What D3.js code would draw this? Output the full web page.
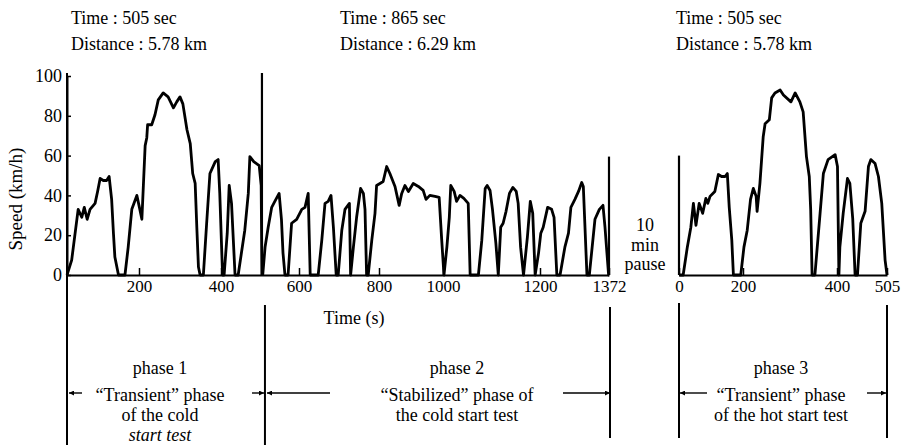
<!DOCTYPE html>
<html><head><meta charset="utf-8">
<script src="https://cdn.jsdelivr.net/npm/d3@7"></script>
<style>
body{margin:0;background:#fff}
svg{display:block}
text{font-family:"Liberation Serif","Times New Roman",serif;fill:#000}
</style>
</head><body>
<svg id="c" width="905" height="445"></svg>
<script>
// ---- data ----
const yTicks = [0, 20, 40, 60, 80, 100];
const coldTicks = [200, 400, 600, 800, 1000, 1200, 1372];
const hotTicks = [0, 200, 400, 505];

// phase 1 : cold transient (s, km/h)
const phase1 = [[0,0],[13,7.5],[31,33],[41,29],[48,34],[56,28],[64,33],[78,36],[85,42],[92,48.5],[101,47.5],[110,47.5],[117,49.5],[124,38],[129,21],[133,9],[143,0],[161,0],[170,14],[180,33],[194,40],[201,34],[207,28],[215,65],[219,69],[221,75.5],[231,75.5],[239,80.5],[247,88],[259,91.5],[271,89.5],[284,84],[292,87],[300,89.5],[307,86],[317,73],[325,66],[331,51],[337,46],[341,24],[345,4],[349,0],[357,0],[365,26],[373,51],[386,57],[393,58],[397,41],[404,0],[408,0],[416,21],[421,45],[427,36],[436,0],[444,0],[461,22.5],[470,41],[474,59.5],[484,57],[498,55],[503,45],[505,0]];
// phase 2 : stabilized
const phase2 = [[507,0],[513,14],[521,24],[530,34],[538,37],[549,41],[555,28],[559,11],[564,0],[572,0],[581,26],[594,28],[607,33],[615,34],[623,41],[628,0],[648,0],[657,17.5],[665,36],[673,37],[680,40],[686,24],[693,0],[698,0],[707,22.5],[715,33],[726,36],[729,0],[736,14],[744,29],[754,43.5],[761,41],[765,33],[769,0],[773,0],[782,17.5],[790,31],[794,45],[803,46],[813,47],[824,54.5],[834,51],[850,44.5],[863,35],[871,41],[881,45],[892,42],[907,46],[923,44.5],[938,42.5],[947,38],[959,40],[975,39.5],[988,39],[996,17.5],[1002,0],[1008,14],[1013,29],[1016,45],[1023,42],[1028,37],[1035,40],[1043,38.5],[1052,36],[1056,0],[1073,0],[1080,17.5],[1087,43.5],[1091,45],[1097,42.5],[1102,33],[1109,16],[1114,0],[1119,24],[1124,26],[1130,32],[1137,41],[1144,44],[1151,42],[1155,36],[1160,14],[1166,0],[1174,19],[1180,37],[1185,31],[1190,0],[1197,11],[1202,21],[1208,24],[1219,34],[1229,33],[1235,29],[1242,0],[1250,0],[1262,14],[1271,21],[1277,34],[1287,38],[1296,42],[1304,46.5],[1308,44.5],[1317,0],[1323,0],[1337,28],[1348,33],[1357,35],[1362,24],[1371,0],[1372,0]];
// phase 3 : hot transient
const phase3 = [[0,0],[13,0],[26,14],[37,24],[45,36],[53,25],[63,36],[74,31],[84,38.5],[90,36],[97,39.5],[112,42],[123,50.5],[133,49.5],[144,49.5],[151,51],[157,34],[165,17.5],[170,0],[193,0],[202,14],[209,22.5],[216,38],[222,43.5],[228,39.5],[230,32],[236,46],[243,69.5],[247,76],[256,78],[261,89],[268,91.5],[279,93],[286,90.5],[302,87],[311,91.5],[321,87],[328,82],[335,59.5],[341,49.5],[344,33],[347,0],[353,0],[364,31],[371,51],[381,58],[396,60.5],[401,54.5],[404,0],[406,14],[413,31],[422,48.5],[427,46],[433,28.5],[438,0],[443,0],[450,26],[459,32],[466,54.5],[471,58],[480,56],[487,49.5],[494,36],[501,7.5],[505,0]];

// vertical phase-end markers [time, height km/h]
const coldMarkers = [[505, 101.5], [1372, 59.5]];
const hotMarkers = [[0, 60]];
const coldBounds = [0, 505, 1372];
const hotBounds = [0, 505];

const headers = [
  ["Time : 505 sec", "Distance : 5.78 km"],
  ["Time : 865 sec", "Distance : 6.29 km"],
  ["Time : 505 sec", "Distance : 5.78 km"]
];
const phase1Text = ["phase 1", "\u201cTransient\u201d phase", "of the cold", "start test"];
const phase2Text = ["phase 2", "\u201cStabilized\u201d phase of", "the cold start test"];
const phase3Text = ["phase 3", "\u201cTransient\u201d phase", "of the hot start test"];
const pauseText = ["10", "min", "pause"];

// ---- drawing ----
const svg = d3.select("#c");
svg.append("rect").attr("width", 905).attr("height", 445).attr("fill", "#fff");

const y = d3.scaleLinear().domain([0, 100]).range([275, 76]);
const xCold = d3.scaleLinear().domain([0, 200, 400, 600, 800, 1000, 1200, 1372])
  .range([67, 139, 221, 299, 379, 443, 540, 609]);
const xHot = d3.scaleLinear().domain([0, 200, 400, 505]).range([679, 743, 837, 887]);

function styleAxis(g, fs) {
  g.attr("font-family", null).attr("font-size", null);
  g.selectAll("text").style("font-size", fs + "px")
    .style("font-family", '"Liberation Serif","Times New Roman",serif');
  g.selectAll("path.domain").attr("stroke-width", 2);
  g.selectAll(".tick line").attr("stroke-width", 1.5);
}

// y axis
const gy = svg.append("g").attr("transform", "translate(67,0)")
  .call(d3.axisLeft(y).tickValues(yTicks).tickSizeInner(-4).tickSizeOuter(0).tickPadding(5));
styleAxis(gy, 18);

// x axes
const gxc = svg.append("g").attr("transform", "translate(0,275)")
  .call(d3.axisBottom(xCold).tickValues(coldTicks).tickFormat(d3.format("d"))
    .tickSizeInner(-7).tickSizeOuter(0).tickPadding(5));
styleAxis(gxc, 17);
const gxh = svg.append("g").attr("transform", "translate(0,275)")
  .call(d3.axisBottom(xHot).tickValues(hotTicks).tickFormat(d3.format("d"))
    .tickSizeInner(-7).tickSizeOuter(0).tickPadding(5));
styleAxis(gxh, 17);

// curves
const lineCold = d3.line().x(d => xCold(d[0])).y(d => y(d[1]));
const lineHot = d3.line().x(d => xHot(d[0])).y(d => y(d[1]));
[phase1, phase2].forEach(p => svg.append("path").datum(p).attr("d", lineCold)
  .attr("fill", "none").attr("stroke", "#000").attr("stroke-width", 2.8).attr("stroke-linejoin", "round"));
svg.append("path").datum(phase3).attr("d", lineHot)
  .attr("fill", "none").attr("stroke", "#000").attr("stroke-width", 2.8).attr("stroke-linejoin", "round");

// vertical markers in plot
svg.selectAll(null).data(coldMarkers).enter().append("line")
  .attr("x1", d => xCold(d[0])).attr("x2", d => xCold(d[0]))
  .attr("y1", y(0)).attr("y2", d => y(d[1])).attr("stroke", "#000").attr("stroke-width", 2.2);
svg.selectAll(null).data(hotMarkers).enter().append("line")
  .attr("x1", d => xHot(d[0])).attr("x2", d => xHot(d[0]))
  .attr("y1", y(0)).attr("y2", d => y(d[1])).attr("stroke", "#000").attr("stroke-width", 2.2);

// y axis extension top + down to bottom
svg.append("line").attr("x1", xCold(0)).attr("x2", xCold(0)).attr("y1", 73).attr("y2", 445)
  .attr("stroke", "#000").attr("stroke-width", 2);

// phase boundary lines below axis
const lowTop = [null, 305, 307];
coldBounds.forEach((t, i) => {
  if (i === 0) return;
  svg.append("line").attr("x1", xCold(t) + (i === 1 ? 3 : 1)).attr("x2", xCold(t) + (i === 1 ? 3 : 1))
    .attr("y1", lowTop[i]).attr("y2", i === 1 ? 445 : 438)
    .attr("stroke", "#000").attr("stroke-width", 2);
});
hotBounds.forEach((t, i) => {
  svg.append("line").attr("x1", xHot(t)).attr("x2", xHot(t))
    .attr("y1", i === 0 ? 303 : 305).attr("y2", 438)
    .attr("stroke", "#000").attr("stroke-width", 2);
});

// arrow marker
const defs = svg.append("defs");
defs.append("marker").attr("id", "ah").attr("viewBox", "0 0 10 10").attr("refX", 10).attr("refY", 5)
  .attr("markerWidth", 7).attr("markerHeight", 5).attr("markerUnits", "userSpaceOnUse")
  .attr("orient", "auto")
  .append("path").attr("d", "M0,0 L10,5 L0,10 z").attr("fill", "#000");

const arrows = [
  [82, 69], [252, 264], [330, 267], [563, 610], [707, 680], [867, 886]
];
arrows.forEach(a => {
  svg.append("line").attr("x1", a[0]).attr("x2", a[1]).attr("y1", 393).attr("y2", 393)
    .attr("stroke", "#000").attr("stroke-width", 1.4).attr("marker-end", "url(#ah)");
});

// header text
const hx = [71, 340, 676];
headers.forEach((h, i) => {
  h.forEach((s, j) => svg.append("text").attr("x", hx[i]).attr("y", 24 + j * 26)
    .attr("font-size", 18).text(s));
});

// y label
svg.append("text").attr("transform", "translate(22,199) rotate(-90)")
  .attr("text-anchor", "middle").attr("font-size", 19).text("Speed (km/h)");

// x label
svg.append("text").attr("x", 354).attr("y", 324).attr("text-anchor", "middle")
  .attr("font-size", 18).text("Time (s)");

// pause label
const pb = [231, 251, 270];
pauseText.forEach((s, i) => svg.append("text").attr("x", 645).attr("y", pb[i])
  .attr("text-anchor", "middle").attr("font-size", 18).text(s));

// phase descriptions
const base = [374, 401, 421, 441];
function block(lines, cx, italicLast) {
  lines.forEach((s, i) => {
    const t = svg.append("text").attr("x", cx).attr("y", base[i]).attr("text-anchor", "middle")
      .attr("font-size", 18).text(s);
    if (italicLast && i === lines.length - 1) t.attr("font-style", "italic");
  });
}
block(phase1Text, 160, true);
block(phase2Text, 457, false);
block(phase3Text, 781, false);
</script>
</body></html>
